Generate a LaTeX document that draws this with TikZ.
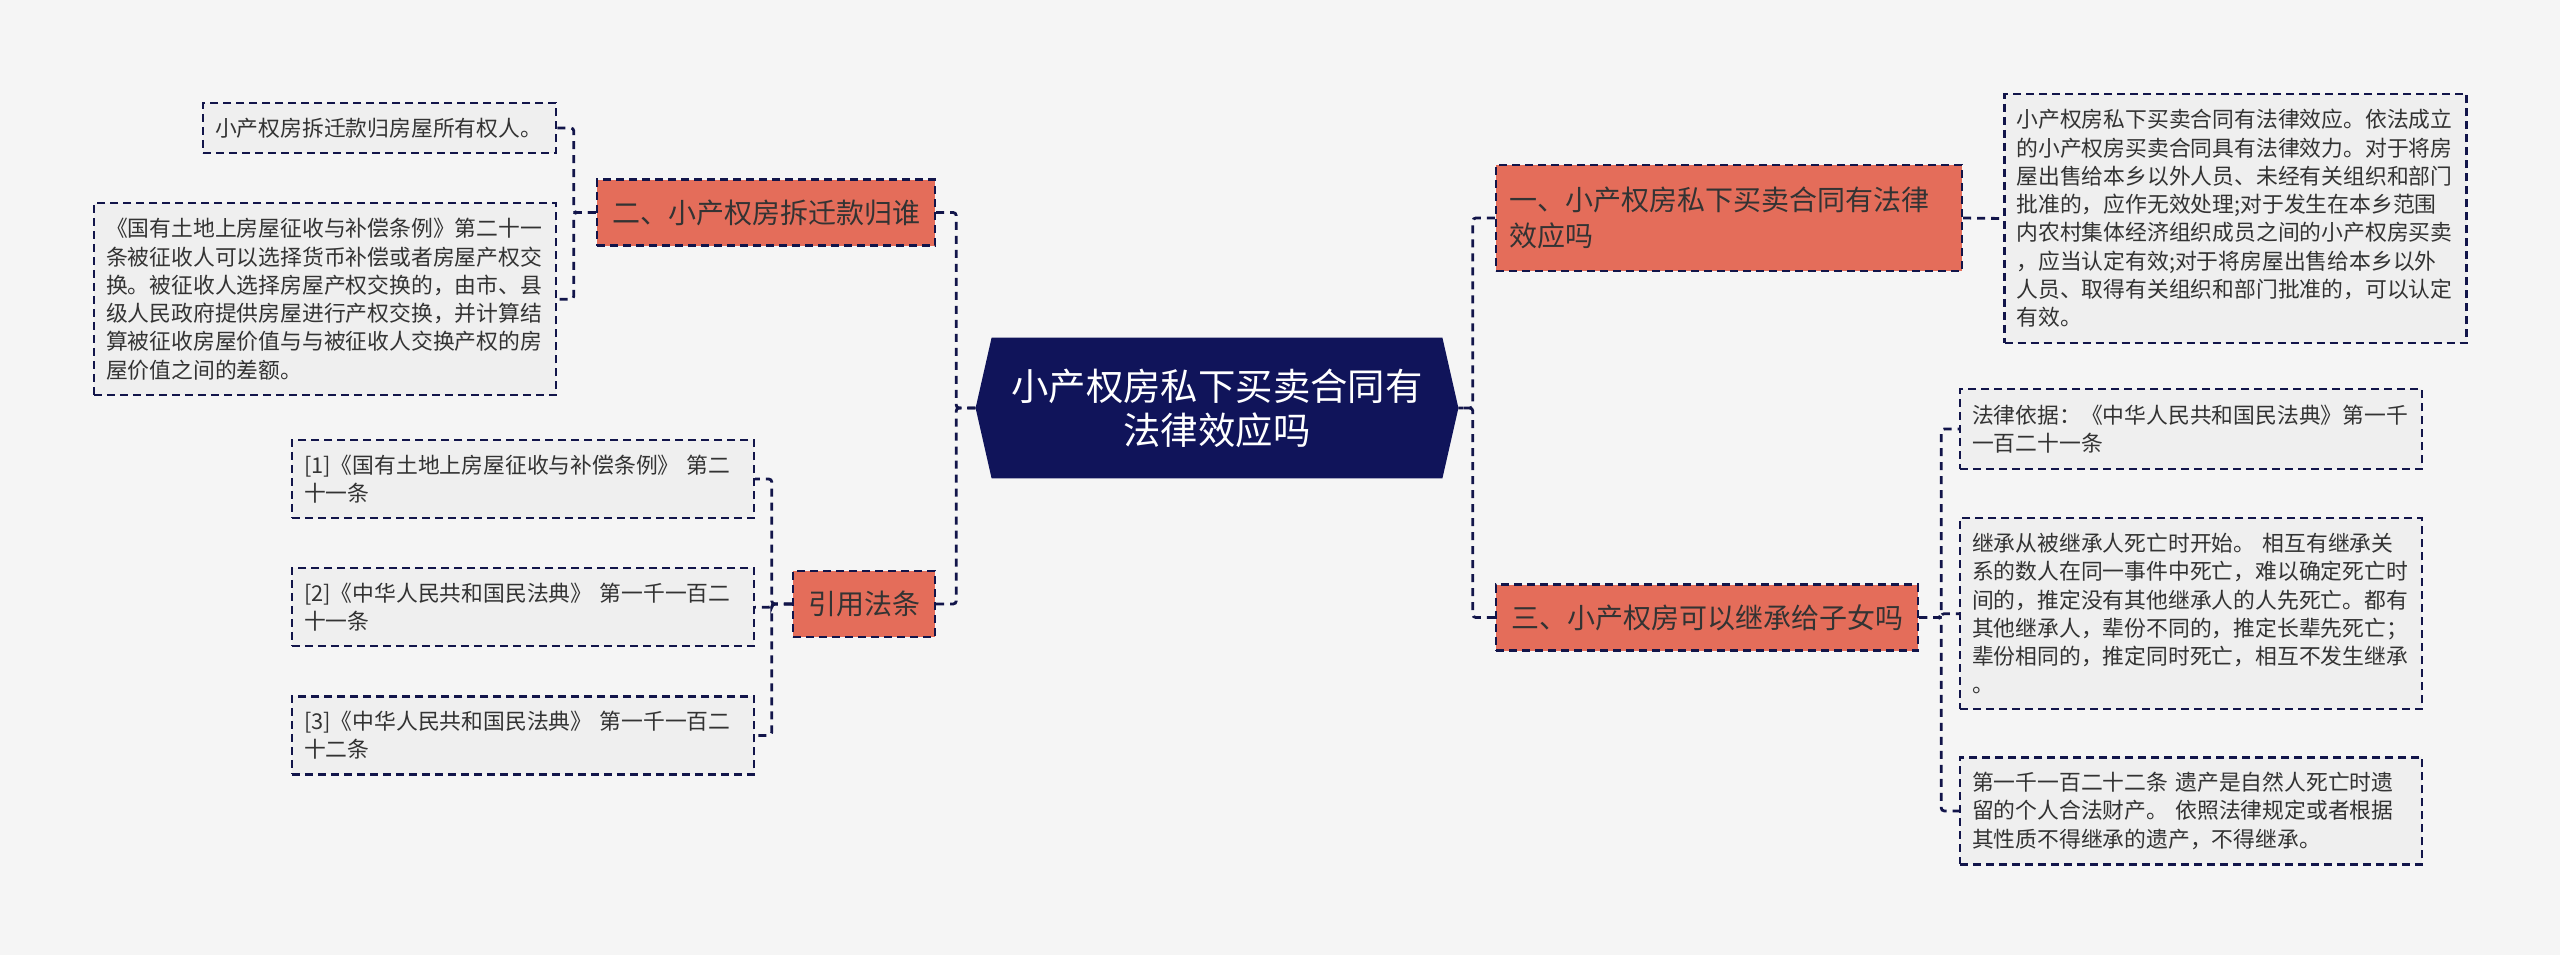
\documentclass[tikz,border=0pt]{standalone}
\usepackage{fontspec}
\setmainfont{Noto Sans CJK SC}
\usepackage{xcolor}
\usetikzlibrary{positioning, backgrounds}

\definecolor{navy}{HTML}{10145A}
\definecolor{linkblue}{HTML}{12154A}
\definecolor{topicred}{HTML}{E46D5A}
\definecolor{leafgray}{HTML}{EFEFEF}
\definecolor{paper}{HTML}{F5F5F5}
\definecolor{ink}{HTML}{333333}

\begin{document}
\begin{tikzpicture}[
    x=0.5pt, y=-0.5pt,
    hub/.style={minimum width=241pt, minimum height=70pt, text=white, align=center, font=\fontsize{18.7}{22}\selectfont},
    topic/.style={rectangle, draw=linkblue, dash pattern=on 4pt off 2.5pt, line width=1.2pt, fill=topicred, text=ink, minimum height=33pt, font=\fontsize{14}{18.3}\selectfont},
    leaf/.style={rectangle, draw=linkblue, dash pattern=on 4pt off 2.5pt, line width=1.1pt, fill=leafgray, text=ink, align=left, inner xsep=6pt, text width=219pt, font=\fontsize{10.9}{14.15}\selectfont},
    link/.style={draw=linkblue, line width=1.4pt, dash pattern=on 4pt off 3pt, rounded corners=1.5pt}
  ]
  \useasboundingbox (0,0) rectangle (2560,955);

  \node[hub] (hub) at (1217,408) {小产权房私下买卖合同有\\法律效应吗};

  % left branches
  \node[topic, minimum width=169pt] (chai) at (766,212.5) {二、小产权房拆迁款归谁};
  \node[topic, minimum width=71pt] (yin) at (864,604) {引用法条};

  \node[leaf, text width=164.5pt, minimum height=25pt] (chai1) at (379.5,128) {小产权房拆迁款归房屋所有权人。};
  \node[leaf, minimum height=96pt] (chai2) [below=24pt of chai1.south east, anchor=north east] {《国有土地上房屋征收与补偿条例》第二十一\\条被征收人可以选择货币补偿或者房屋产权交\\换。被征收人选择房屋产权交换的，由市、县\\级人民政府提供房屋进行产权交换，并计算结\\算被征收房屋价值与与被征收人交换产权的房\\屋价值之间的差额。};

  \node[leaf, minimum height=39pt] (yin1) at (523,479) {[1]《国有土地上房屋征收与补偿条例》 第二\\十一条};
  \node[leaf, minimum height=39pt] (yin2) [below=24pt of yin1] {[2]《中华人民共和国民法典》 第一千一百二\\十一条};
  \node[leaf, minimum height=39pt] (yin3) [below=24pt of yin2] {[3]《中华人民共和国民法典》 第一千一百二\\十二条};

  % right branches
  \node[topic, minimum width=233pt, minimum height=53pt, align=left, text width=220pt] (xiao) at (1729,218) {一、小产权房私下买卖合同有法律\\效应吗};
  \node[topic, minimum width=211pt] (ji) at (1707,617.5) {三、小产权房可以继承给子女吗};

  \node[leaf, minimum height=124.5pt] (xiao1) at (2235.5,218.5) {小产权房私下买卖合同有法律效应。依法成立\\的小产权房买卖合同具有法律效力。对于将房\\屋出售给本乡以外人员、未经有关组织和部门\\批准的，应作无效处理;对于发生在本乡范围\\内农村集体经济组织成员之间的小产权房买卖\\，应当认定有效;对于将房屋出售给本乡以外\\人员、取得有关组织和部门批准的，可以认定\\有效。};

  \node[leaf, minimum height=40pt] (ji1) at (2191,429) {法律依据：《中华人民共和国民法典》第一千\\一百二十一条};
  \node[leaf, minimum height=95.5pt] (ji2) [below=23.5pt of ji1] {继承从被继承人死亡时开始。 相互有继承关\\系的数人在同一事件中死亡，难以确定死亡时\\间的，推定没有其他继承人的人先死亡。都有\\其他继承人，辈份不同的，推定长辈先死亡；\\辈份相同的，推定同时死亡，相互不发生继承\\。};
  \node[leaf, minimum height=53.5pt] (ji3) [below=23pt of ji2] {第一千一百二十二条 遗产是自然人死亡时遗\\留的个人合法财产。 依照法律规定或者根据\\其性质不得继承的遗产，不得继承。};

  \begin{scope}[on background layer]
    \fill[paper] (0,0) rectangle (2560,955);
    \fill[navy] ([xshift=8pt]hub.north west) -- (hub.west) -- ([xshift=8pt]hub.south west)
      -- ([xshift=-8pt]hub.south east) -- (hub.east) -- ([xshift=-8pt]hub.north east) -- cycle;
  \end{scope}

  \draw[link] (chai.east) -- ++(20,0) |- (hub.west);
  \draw[link] (yin.east) -- ++(20,0) |- (hub.west);
  \draw[link] (xiao.west) -- ++(-22,0) |- (hub.east);
  \draw[link] (ji.west) -- ++(-22,0) |- (hub.east);

  \draw[link] (chai.west) -- ++(-22,0) |- (chai1.east);
  \draw[link] (chai.west) -- ++(-22,0) |- (chai2.east);
  \draw[link] (yin.west) -- ++(-20,0) |- (yin1.east);
  \draw[link] (yin.west) -- ++(-20,0) |- (yin2.east);
  \draw[link] (yin.west) -- ++(-20,0) |- (yin3.east);

  \draw[link] (xiao.east) -- (xiao1.west);
  \draw[link] (ji.east) -- ++(22,0) |- (ji1.west);
  \draw[link] (ji.east) -- ++(22,0) |- (ji2.west);
  \draw[link] (ji.east) -- ++(22,0) |- (ji3.west);

\end{tikzpicture}
\end{document}
